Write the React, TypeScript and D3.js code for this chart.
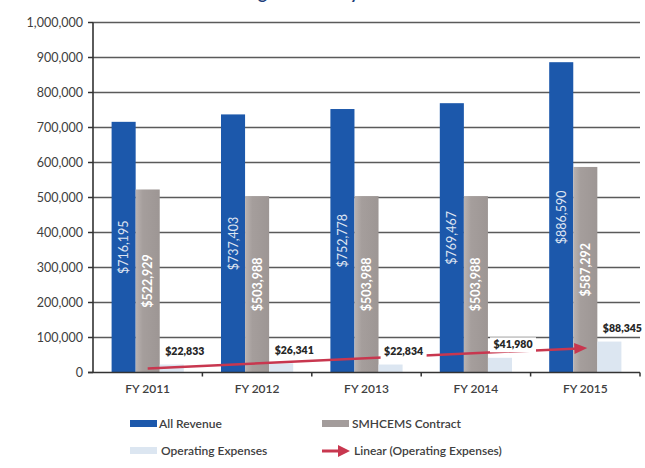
import React from "react";
import * as d3 from "d3";

const categories = ["FY 2011", "FY 2012", "FY 2013", "FY 2014", "FY 2015"];
const allRevenue = [716195, 737403, 752778, 769467, 886590];
const smhcemsContract = [522929, 503988, 503988, 503988, 587292];
const operatingExpenses = [22833, 26341, 22834, 41980, 88345];
const yTickValues = [0, 100000, 200000, 300000, 400000, 500000, 600000, 700000, 800000, 900000, 1000000];
const seriesNames = ["All Revenue", "SMHCEMS Contract", "Operating Expenses"];
const trendName = "Linear (Operating Expenses)";
const title = "Funding Revenue by Fiscal Year";

const W = 645;
const H = 468;
const plot = { left: 93, right: 640, top: 22.5, bottom: 372.5 };

const BLUE = "#1c58ab";
const GRAY = "#a39c9b";
const LIGHT = "#dce6f1";
const RED = "#c8374f";
const TEXT = "#404040";
const FONT = "Lato, 'Open Sans', sans-serif";

const money = (v: number) => "$" + d3.format(",")(v);

// least-squares line through (1..n, operatingExpenses)
function linearFit(values: number[]) {
  const xs = values.map((_, i) => i + 1);
  const mx = d3.mean(xs) as number;
  const my = d3.mean(values) as number;
  const sxy = d3.sum(xs, (x, i) => (x - mx) * (values[i] - my));
  const sxx = d3.sum(xs, (x) => (x - mx) * (x - mx));
  const slope = sxy / sxx;
  return (x: number) => my + slope * (x - mx);
}

export default function App() {
  const x = d3.scaleBand<string>().domain(categories).range([plot.left, plot.right]).paddingInner(0).paddingOuter(0);
  const bw = x.bandwidth();
  const inner = d3.scaleBand<string>().domain(seriesNames).range([bw * 0.17, bw * 0.83]).padding(0);
  const w = inner.bandwidth();
  const y = d3.scaleLinear().domain([0, 1000000]).range([plot.bottom, plot.top]);

  const fit = linearFit(operatingExpenses);
  const cx = (i: number) => (x(categories[i]) as number) + bw / 2;
  const x1 = cx(0);
  const x2 = cx(categories.length - 1);
  const y1 = y(fit(1));
  const y2 = y(fit(categories.length));
  const ang = Math.atan2(y2 - y1, x2 - x1);
  const headLen = 11;
  const headHalf = 5.5;
  const lineEndX = x2 - Math.cos(ang) * headLen * 0.6;
  const lineEndY = y2 - Math.sin(ang) * headLen * 0.6;
  const headPts = [
    [x2 + Math.cos(ang) * 2, y2 + Math.sin(ang) * 2],
    [x2 - Math.cos(ang) * headLen - Math.sin(ang) * headHalf, y2 - Math.sin(ang) * headLen + Math.cos(ang) * headHalf],
    [x2 - Math.cos(ang) * headLen + Math.sin(ang) * headHalf, y2 - Math.sin(ang) * headLen - Math.cos(ang) * headHalf],
  ]
    .map((p) => p.join(","))
    .join(" ");

  const series = [
    { name: seriesNames[0], values: allRevenue, fill: BLUE },
    { name: seriesNames[1], values: smhcemsContract, fill: "url(#grayGrad)" },
    { name: seriesNames[2], values: operatingExpenses, fill: LIGHT },
  ];

  return (
    <div style={{ position: "absolute", left: 0, top: 0 }}>
      <svg width={W} height={H} style={{ display: "block", background: "#fff" }} fontFamily={FONT}>
        <defs>
          <linearGradient id="grayGrad" x1="0" x2="1" y1="0" y2="0">
            <stop offset="0" stopColor="#bab3b1" />
            <stop offset="0.3" stopColor="#a59e9c" />
            <stop offset="1" stopColor="#9d9694" />
          </linearGradient>
        </defs>

        {/* title, set high so only its lower part shows */}
        <text x={324} y={-1} textAnchor="middle" fontSize={17} fontWeight={700} fill="#1f3f7a">
          {title}
        </text>

        {/* horizontal gridlines and y ticks */}
        {yTickValues.map((t) => (
          <g key={t}>
            {t > 0 && (
              <line x1={plot.left} x2={plot.right} y1={y(t)} y2={y(t)} stroke="#5a5a5a" strokeWidth={1.6} />
            )}
            <line x1={plot.left - 5} x2={plot.left} y1={y(t)} y2={y(t)} stroke="#333" strokeWidth={1.5} />
            <text x={83} y={y(t)} dy="0.35em" textAnchor="end" fontSize={12.5} fill={TEXT}>
              {d3.format(",")(t)}
            </text>
          </g>
        ))}

        {/* bars */}
        {series.map((s) =>
          s.values.map((v, i) => (
            <rect
              key={s.name + i}
              x={(x(categories[i]) as number) + (inner(s.name) as number)}
              y={y(v)}
              width={w}
              height={y(0) - y(v)}
              fill={s.fill}
            />
          ))
        )}

        {/* axes */}
        <line x1={plot.left} x2={plot.left} y1={plot.top} y2={plot.bottom} stroke="#333" strokeWidth={1.6} />
        <line x1={plot.left - 5} x2={plot.right} y1={plot.bottom} y2={plot.bottom} stroke="#333" strokeWidth={1.6} />
        {categories.map((c, i) => (
          <line
            key={"xt" + c}
            x1={(x(c) as number) + bw}
            x2={(x(c) as number) + bw}
            y1={plot.bottom}
            y2={plot.bottom + 4}
            stroke="#333"
            strokeWidth={1.5}
          />
        ))}
        {categories.map((c) => (
          <text key={"xl" + c} x={(x(c) as number) + bw / 2} y={393} textAnchor="middle" fontSize={12} fill={TEXT} fontWeight={600}>
            {c}
          </text>
        ))}

        {/* rotated value labels inside the revenue and contract bars */}
        {[series[0], series[1]].map((s) =>
          s.values.map((v, i) => {
            const bx = (x(categories[i]) as number) + (inner(s.name) as number) + w / 2;
            const by = y(v / 2);
            return (
              <text
                key={"lbl" + s.name + i}
                transform={`translate(${bx},${by}) rotate(-90)`}
                textAnchor="middle"
                dy="0.36em"
                fontSize={12.5}
                fontWeight={s === series[1] ? 700 : 400}
                fill="#fff"
                opacity={s === series[1] ? 1 : 0.85}
              >
                {money(v)}
              </text>
            );
          })
        )}

        {/* trend line */}
        <line x1={x1} y1={y1} x2={lineEndX} y2={lineEndY} stroke={RED} strokeWidth={2.5} />
        <polygon points={headPts} fill={RED} />

        {/* operating expense labels */}
        {operatingExpenses.map((v, i) => {
          const lx = (x(categories[i]) as number) + (inner(seriesNames[2]) as number) + w + 1;
          const ly = y(v) - 13;
          const boxed = i < operatingExpenses.length - 1;
          return (
            <g key={"op" + i}>
              {boxed && <rect x={lx - 23} y={ly - 7.5} width={46} height={15} fill="#fff" />}
              <text x={lx} y={ly} dy="0.35em" textAnchor="middle" fontSize={10.5} fontWeight={800} fill="#262626">
                {money(v)}
              </text>
            </g>
          );
        })}

        {/* legend */}
        <g fontSize={12} fill={TEXT} fontWeight={600}>
          <rect x={130} y={420} width={27} height={7} fill={BLUE} />
          <text x={159} y={424} dy="0.35em">{seriesNames[0]}</text>
          <rect x={322} y={420} width={27} height={7} fill={GRAY} />
          <text x={352} y={424} dy="0.35em">{seriesNames[1]}</text>
          <rect x={130} y={447} width={27} height={7} fill={LIGHT} />
          <text x={161} y={451} dy="0.35em">{seriesNames[2]}</text>
          <line x1={322} x2={340} y1={451} y2={451} stroke={RED} strokeWidth={3} />
          <polygon points="350,451 338,445 338,457" fill={RED} />
          <text x={354} y={451} dy="0.35em">{trendName}</text>
        </g>
      </svg>
    </div>
  );
}
